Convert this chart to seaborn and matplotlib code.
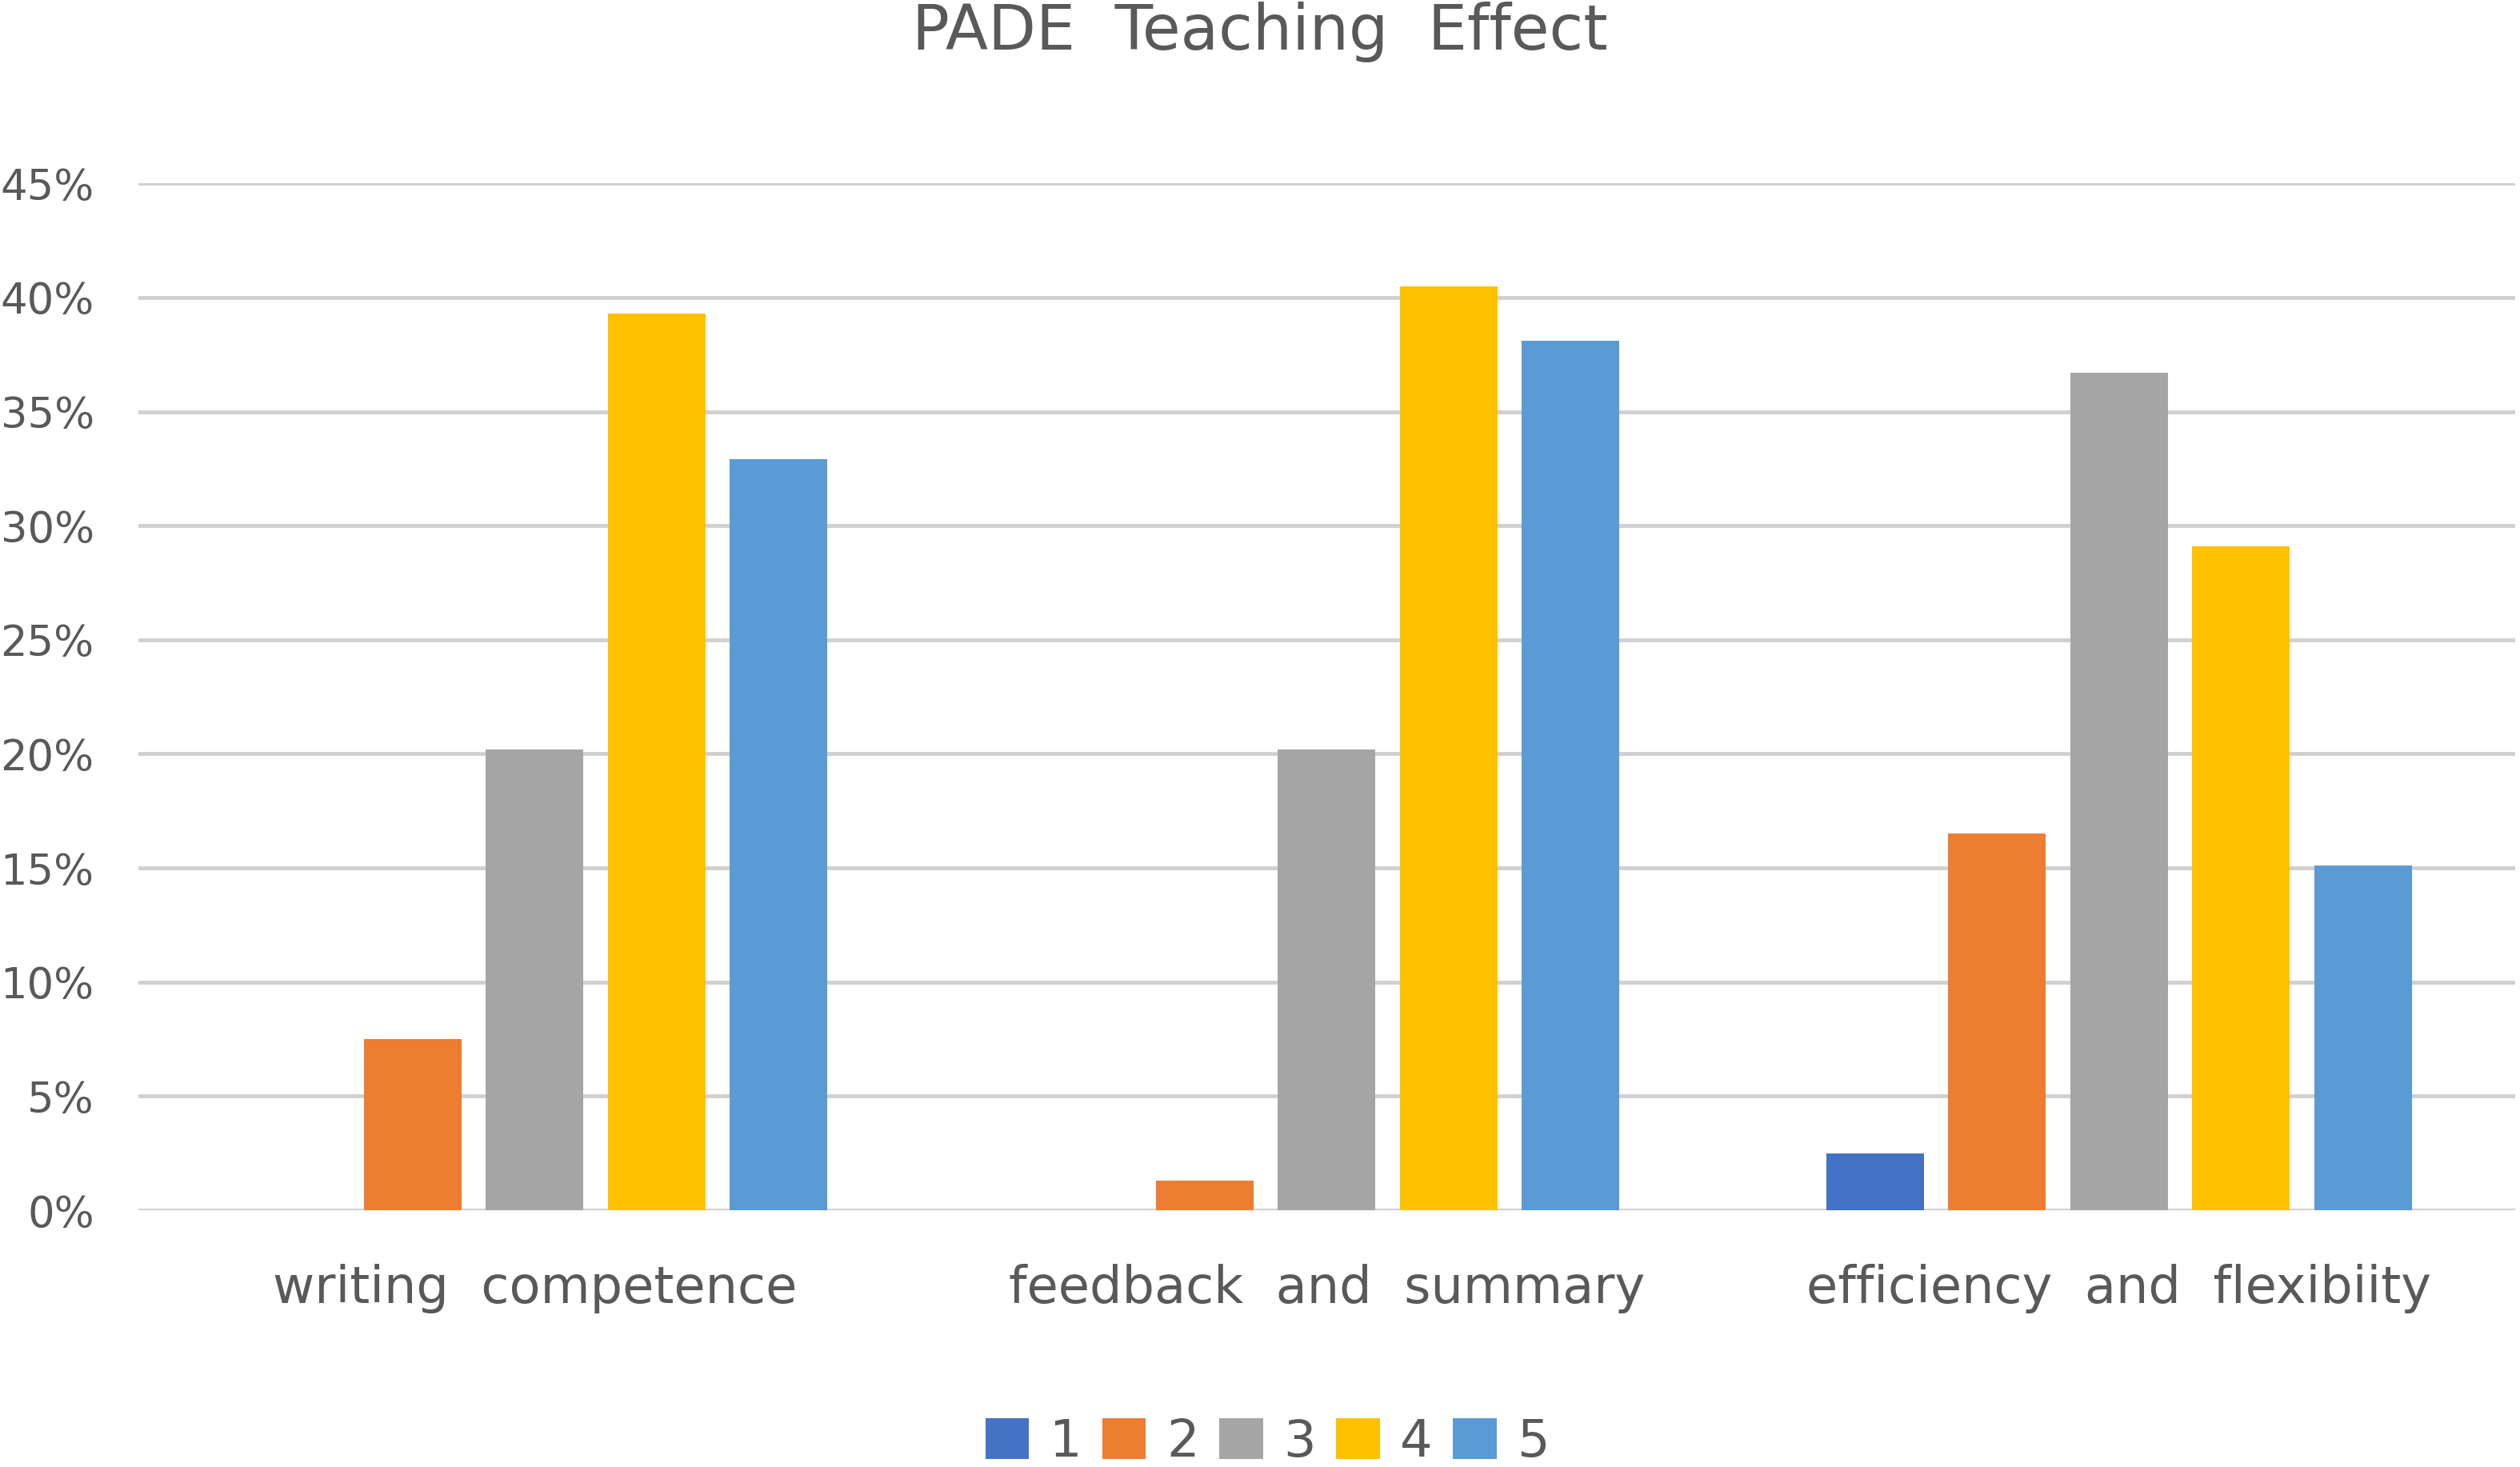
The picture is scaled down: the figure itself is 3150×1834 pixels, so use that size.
import numpy as np
import pandas as pd
import matplotlib.pyplot as plt
import seaborn as sns

# значения (в процентах)
categories = ["writing  competence", "feedback  and  summary", "efficiency  and  flexibiity"]
levels = ["1", "2", "3", "4", "5"]
score_1 = [0.0, 0.0, 2.5]
score_2 = [7.5, 1.3, 16.5]
score_3 = [20.2, 20.2, 36.7]
score_4 = [39.3, 40.5, 29.1]
score_5 = [32.9, 38.1, 15.1]
yticks = [0, 5, 10, 15, 20, 25, 30, 35, 40, 45]

colors = ["#4472C4", "#ED7D31", "#A5A5A5", "#FFC000", "#5B9BD5"]

rows = []
for lvl, vals in zip(levels, [score_1, score_2, score_3, score_4, score_5]):
    for cat, v in zip(categories, vals):
        rows.append({"category": cat, "level": lvl, "value": v})
df = pd.DataFrame(rows)

sns.set_style("white")
plt.rcParams["font.family"] = ["DejaVu Sans"]
txt = "#595959"

fig = plt.figure(figsize=(31.5, 18.34), dpi=100)
ax = fig.add_axes([0.055, 0.175, 0.943, 0.70])

sns.barplot(data=df, x="category", y="value", hue="level", hue_order=levels,
            palette=colors, width=0.77, gap=0.2, saturation=1, ax=ax,
            edgecolor="none", legend=True)

ax.set_ylim(0, 45)
ax.set_xlim(-0.5, 2.5)
ax.set_yticks(yticks)
ax.set_yticklabels([f"{v}%" for v in yticks])
ax.yaxis.grid(True, color="#D0D0D0", linewidth=3.5)
ax.set_axisbelow(True)
for s in ax.spines.values():
    s.set_visible(False)
ax.tick_params(axis="y", length=0, pad=40, labelsize=38, labelcolor=txt)
ax.tick_params(axis="x", length=0, pad=48, labelsize=46, labelcolor=txt)
ax.set_xlabel("")
ax.set_ylabel("")

fig.suptitle("PADE  Teaching  Effect", y=0.999, va="top", fontsize=56, color=txt)

handles, labels = ax.get_legend_handles_labels()
ax.get_legend().remove()
fig.legend(handles, labels, loc="center", bbox_to_anchor=(0.503, 0.017), ncol=5,
           frameon=False, fontsize=46, labelcolor=txt, handlelength=0.85,
           handleheight=0.85, handletextpad=0.4, columnspacing=0.4)

fig.savefig("out.png", dpi=100)
